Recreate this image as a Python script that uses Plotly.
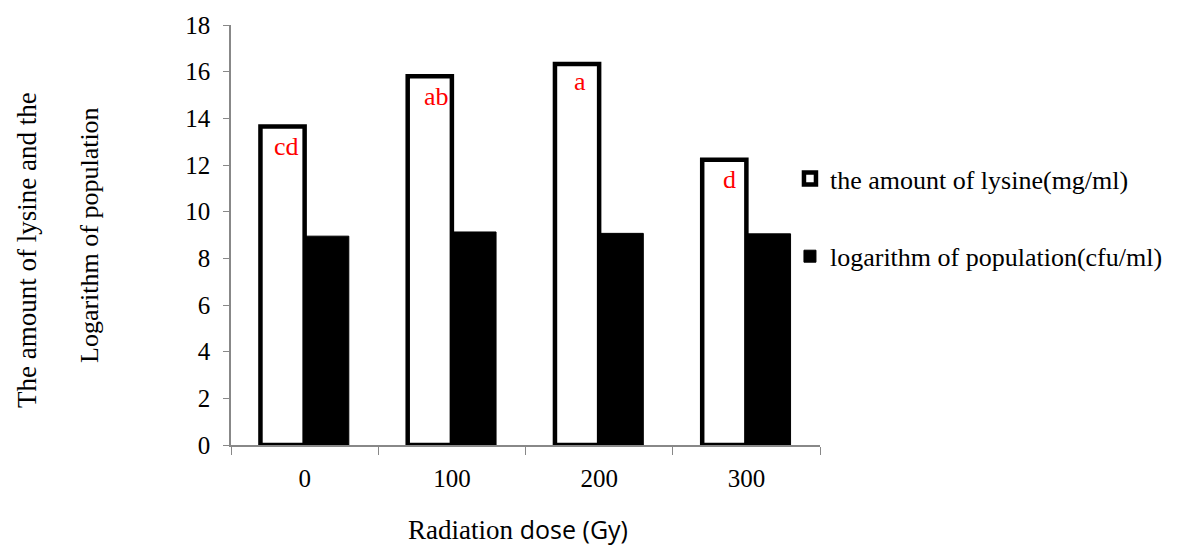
import plotly.graph_objects as go

doses = ["0", "100", "200", "300"]
lysine = [13.65, 15.8, 16.33, 12.22]
log_pop = [8.95, 9.13, 9.07, 9.05]
letters = ["cd", "ab", "a", "d"]
y_ticks = [0, 2, 4, 6, 8, 10, 12, 14, 16, 18]

SERIF = "Liberation Serif, Times New Roman, serif"
FS = 26

fig = go.Figure()
fig.add_trace(go.Bar(
    x=doses, y=lysine, name="the amount of lysine(mg/ml)",
    marker=dict(color="white", line=dict(color="black", width=4.5)),
    legendgroup="a",
))
fig.add_trace(go.Bar(
    x=doses, y=log_pop, name="logarithm of population(cfu/ml)",
    marker=dict(color="black", line=dict(color="black", width=1)),
    legendgroup="b",
))

xshifts = [-18, -15, -19, -17]
yshifts = [-20, -20, -18, -20]
for i, (v, t, xs, ys) in enumerate(zip(lysine, letters, xshifts, yshifts)):
    fig.add_annotation(x=i, y=v, text=t, showarrow=False, xshift=xs, yshift=ys,
                       font=dict(family=SERIF, size=FS, color="red"))

fig.add_annotation(xref="paper", yref="paper", x=(27 - 231) / 589, y=(445 - 250) / 420,
                   xanchor="center", yanchor="middle",
                   text="The amount of lysine and the", textangle=-90, showarrow=False,
                   font=dict(family=SERIF, size=27, color="black"))
fig.add_annotation(xref="paper", yref="paper", x=(89 - 231) / 589, y=(445 - 235) / 420,
                   xanchor="center", yanchor="middle",
                   text="Logarithm of population", textangle=-90, showarrow=False,
                   font=dict(family=SERIF, size=FS, color="black"))
fig.add_annotation(xref="paper", yref="paper", x=(518 - 231) / 589, y=(445 - 529) / 420,
                   xanchor="center", yanchor="middle",
                   text=('<span style="font-family:Liberation Serif;font-size:27px">Radiation </span>'
                         '<span style="font-family:Open Sans;font-size:25px">dose (Gy)</span>'),
                   showarrow=False,
                   font=dict(family=SERIF, size=25, color="black"))

fig.update_layout(
    width=1177, height=547,
    margin=dict(l=231, r=357, t=25, b=102, autoexpand=False),
    paper_bgcolor="white", plot_bgcolor="white",
    barmode="group", bargap=0.4, bargroupgap=0,
    font=dict(family=SERIF, size=FS, color="black"),
    showlegend=True,
    legend=dict(x=0.949, y=(445 - 155) / 420, xanchor="left", yanchor="top",
                traceorder="grouped", tracegroupgap=41,
                font=dict(family=SERIF, size=FS, color="black"),
                bgcolor="rgba(0,0,0,0)", itemwidth=30),
    xaxis=dict(type="category", range=[-0.5, 3.5], showline=True, linecolor="#888888",
               linewidth=1.5, ticks="outside", tickson="boundaries", ticklen=8,
               tickcolor="#888888", showgrid=False, tickfont=dict(family=SERIF, size=25),
               ticklabelstandoff=10, automargin=False),
    yaxis=dict(range=[0, 18], tickvals=y_ticks, showline=True, linecolor="#888888",
               linewidth=1.5, ticks="outside", ticklen=6, tickcolor="#888888",
               showgrid=False, zeroline=False, tickfont=dict(family=SERIF, size=25),
               ticklabelstandoff=8, automargin=False),
)

fig.write_html("out.html", config={"displayModeBar": False},
               post_script="document.body.style.margin='0';")
